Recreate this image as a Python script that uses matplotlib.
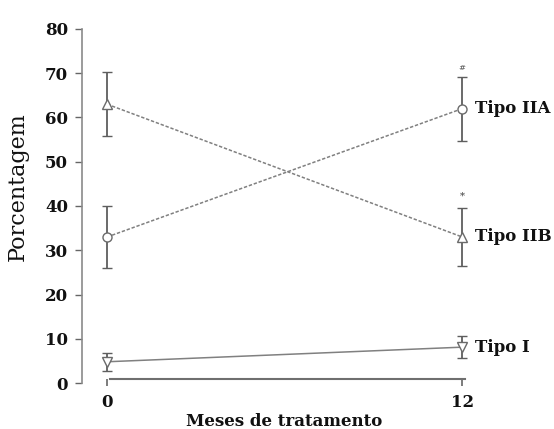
import matplotlib
matplotlib.use("Agg")
import matplotlib.pyplot as plt

months = [0, 12]
tipo_iia = [33, 62]
tipo_iia_err = [7, 7.2]
tipo_iib = [63, 33]
tipo_iib_err = [7.2, 6.6]
tipo_i = [4.8, 8.1]
tipo_i_err = [2.0, 2.5]
series_labels = ["Tipo IIA", "Tipo IIB", "Tipo I"]
yticks = [0, 10, 20, 30, 40, 50, 60, 70, 80]
xticks = [0, 12]
sig_marks = ["#", "*"]

plt.rcParams["font.family"] = ["DejaVu Serif"]
plt.rcParams["font.weight"] = "bold"

fig = plt.figure(figsize=(5.54, 4.29), dpi=100)
fig.patch.set_facecolor("white")
ax = fig.add_axes([82/554, 1-383/429, (477-82)/554, (383-29)/429])
ax.set_facecolor("none")

gray = "#808080"
ecol = "#5e5e5e"
common = dict(ms=6.5, mfc="white", mec="#6a6a6a", mew=1.0, ecolor=ecol,
              elinewidth=1.3, capsize=3.5, capthick=1.2, zorder=3)
ax.errorbar(months, tipo_iia, yerr=tipo_iia_err, color=gray, lw=1.1,
            ls=(0, (2.2, 1.2)), marker="o", **common)
ax.errorbar(months, tipo_iib, yerr=tipo_iib_err, color=gray, lw=1.1,
            ls=(0, (2.2, 1.2)), marker="^", **common)
ax.errorbar(months, tipo_i, yerr=tipo_i_err, color=gray, lw=1.1, ls="-",
            marker="v", **common)

for val, lab in zip([tipo_iia[1], tipo_iib[1], tipo_i[1]], series_labels):
    ax.text(12.42, val, lab, fontsize=12, fontweight="bold", va="center", ha="left",
            clip_on=False, color="#111111")

ax.text(12, tipo_iia[1] + tipo_iia_err[1] + 2.0, sig_marks[0], fontsize=6,
        fontweight="normal", ha="center", va="center", color="#555555")
ax.text(12, tipo_iib[1] + tipo_iib_err[1] + 2.6, sig_marks[1], fontsize=7,
        ha="center", va="center", color="#555555")

ax.set_xlim(-0.85, 12.5)
ax.set_ylim(0, 80)
ax.set_yticks(yticks)
ax.set_xticks(xticks)
ax.tick_params(axis="y", length=5, width=1, color="#666666", labelsize=12, pad=5,
               labelcolor="#111111")
ax.tick_params(axis="x", length=5, width=1.2, color="#666666", labelsize=12, pad=6,
               labelcolor="#111111")

for s in ["top", "right"]:
    ax.spines[s].set_visible(False)
ax.spines["left"].set_color("#8a8a8a")
ax.spines["left"].set_linewidth(1.2)
ax.spines["bottom"].set_color("#6f6f6f")
ax.spines["bottom"].set_linewidth(1.5)
ax.spines["bottom"].set_bounds(0.1, 12.1)
ax.spines["bottom"].set_position(("outward", -3))

ax.set_ylabel("Porcentagem", fontsize=16, fontweight="normal", color="#111111")
ax.yaxis.set_label_coords(-(82 - 29) / (477 - 82), (383 - 187) / 354)
ax.set_xlabel("Meses de tratamento", fontsize=12, fontweight="bold", color="#111111")
ax.xaxis.set_label_coords((284 - 82) / (477 - 82), -(421 - 383) / 354)
ax.xaxis.label.set_va("center")

fig.savefig("out.png", dpi=100)
